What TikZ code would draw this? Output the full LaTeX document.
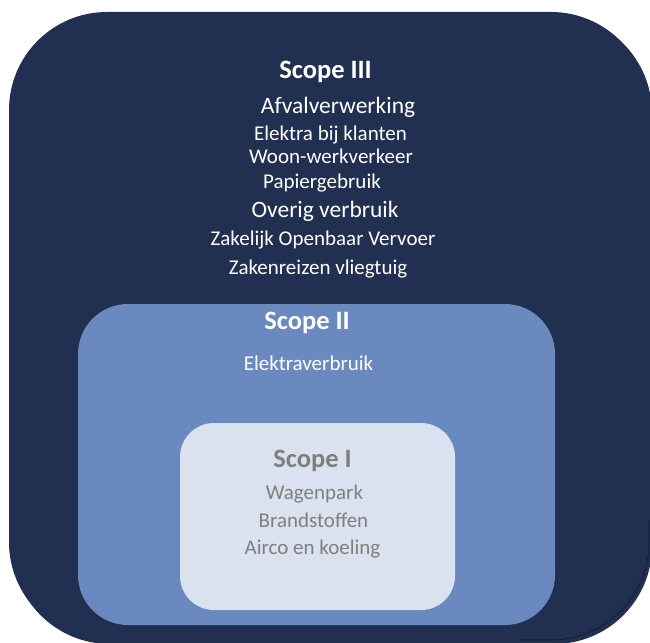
\documentclass[tikz,border=0pt]{standalone}
\usepackage{fontspec}
\setmainfont{Carlito}
\definecolor{navy}{HTML}{213050}
\definecolor{midblue}{HTML}{6A89BF}
\definecolor{paleblue}{HTML}{DAE1EF}
\definecolor{txtgray}{HTML}{7F7F7F}
\begin{document}
\begin{tikzpicture}[x=1pt,y=-1pt,
  title/.style={anchor=base,inner sep=0pt,font=\fontsize{26.5}{30}\selectfont\bfseries},
  big/.style={anchor=base,inner sep=0pt,font=\fontsize{23.5}{27}\selectfont},
  small/.style={anchor=base,inner sep=0pt,font=\fontsize{21}{24}\selectfont}]
\useasboundingbox (0,0) rectangle (650,642);
% outer box with shadow
\fill[navy,rounded corners=98pt] (12,15) rectangle (652,644);
\fill[navy,rounded corners=98pt] (9,12) rectangle (649,640);
\begin{scope}
  \clip (520,520) rectangle (650,642);
  \draw[navy!50!black,line width=0.6pt,rounded corners=98pt] (9,12) rectangle (649,640);
\end{scope}
% scope II box
\fill[midblue,rounded corners=50pt] (78,304) rectangle (555,625);
% scope I box
\fill[paleblue,rounded corners=34pt] (180,423) rectangle (455,610);
% Scope III texts
\node[title,text=white] (s3) at (325.5,78) {Scope III};
\node[big,text=white] (t1) at (338,113) {Afvalverwerking};
\node[small,text=white] (t2) at (330.5,140) {Elektra bij klanten};
\node[small,text=white] (t3) at (331,163) {Woon-werkverkeer};
\node[small,text=white] (t4) at (322,188) {Papiergebruik};
\node[big,text=white] (t5) at (325,217) {Overig verbruik};
\node[small,text=white] (t6) at (323,245) {Zakelijk Openbaar Vervoer};
\node[small,text=white] (t7) at (318,274) {Zakenreizen vliegtuig};
% Scope II texts
\node[title,text=white] (s2) at (307,329) {Scope II};
\node[small,text=white] (u1) at (308.5,370) {Elektraverbruik};
% Scope I texts
\node[title,text=txtgray] (s1) at (312.5,467) {Scope I};
\node[small,text=txtgray] (v1) at (314.5,499) {Wagenpark};
\node[small,text=txtgray] (v2) at (313.5,527) {Brandstoffen};
\node[small,text=txtgray] (v3) at (312.5,554) {Airco en koeling};
\end{tikzpicture}
\end{document}
